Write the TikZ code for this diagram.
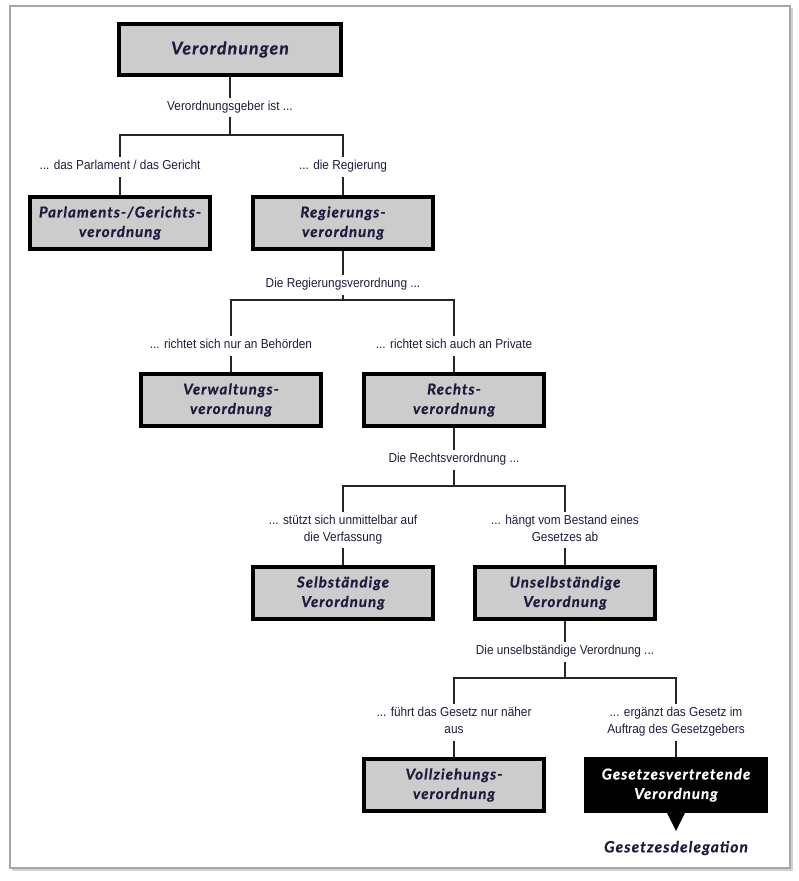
\documentclass[tikz,border=0pt]{standalone}
\usepackage{fontspec}
\newfontfamily\labfont[FakeStretch=0.91]{Liberation Sans}
\newfontfamily\boxfont[LetterSpace=7, BoldItalicFeatures={FakeBold=0.6}]{Lato}
\definecolor{ink}{RGB}{28,28,62}
\definecolor{boxgray}{RGB}{204,204,204}
\newcommand{\ls}{\rule[-0.28em]{0pt}{1.02em}}
\begin{document}
\begin{tikzpicture}[x=1pt,y=-1pt,
  box/.style={draw=black, line width=3.8pt, fill=boxgray, minimum width=180pt, minimum height=52pt,
    align=center, inner sep=0pt, text=ink, font=\boxfont\bfseries\itshape\fontsize{15}{19.5}\selectfont},
  darkbox/.style={box, fill=black, text=white},
  lab/.style={font=\labfont\fontsize{13}{17}\selectfont, text=ink, align=center, inner xsep=2pt, inner ysep=3pt},
  conn/.style={draw=black!85, line width=1.3pt}]
\useasboundingbox (0,0) rectangle (799,881);
% frame
\draw[gray!35, line width=1.6pt] (12,870) -- (792,870) -- (792,8);
\draw[gray!70, line width=1.4pt] (10,6) rectangle (790,868);

% level 0
\node[box, minimum width=222pt, minimum height=51pt, font=\boxfont\bfseries\itshape\fontsize{17.5}{20}\selectfont] (v) at (230,49.5) {Verordnungen};
\node[lab] (l0) at (230,107.5) {\ls Verordnungsgeber ist ...};
\coordinate (b0) at (230,135);
\node[lab] (lp) at (120,167) {\ls ... das Parlament / das Gericht};
\node[lab] (lr) at (343,167) {\ls ... die Regierung};
\node[box] (p) at (120,223) {Parlaments-/Gerichts-\\verordnung};
\node[box] (r) at (343,223) {Regierungs-\\verordnung};

% level 1
\node[lab] (l1) at (343,285) {\ls Die Regierungsverordnung ...};
\coordinate (b1) at (343,300);
\node[lab] (lvw) at (231,346) {\ls ... richtet sich nur an Behörden};
\node[lab] (lre) at (454,346) {\ls ... richtet sich auch an Private};
\node[box] (vw) at (231,400) {Verwaltungs-\\verordnung};
\node[box] (re) at (454,400) {Rechts-\\verordnung};

% level 2
\node[lab] (l2) at (454,460) {\ls Die Rechtsverordnung ...};
\coordinate (b2) at (454,486);
\node[lab] (ls) at (343,530) {\ls ... stützt sich unmittelbar auf\\\ls die Verfassung};
\node[lab] (lu) at (565,530) {\ls ... hängt vom Bestand eines\\\ls Gesetzes ab};
\node[box] (s) at (343,593) {Selbständige\\Verordnung};
\node[box] (u) at (565,593) {Unselbständige\\Verordnung};

% level 3
\node[lab] (l3) at (565,652) {\ls Die unselbständige Verordnung ...};
\coordinate (b3) at (565,678);
\node[lab] (lvz) at (454,722.5) {\ls ... führt das Gesetz nur näher\\\ls aus};
\node[lab] (lg) at (676,722.5) {\ls ... ergänzt das Gesetz im\\\ls Auftrag des Gesetzgebers};
\node[box] (vz) at (454,785) {Vollziehungs-\\verordnung};
\node[darkbox] (g) at (676,785) {Gesetzesvertretende\\Verordnung};
\coordinate (tip) at (676,831);
\fill[black] ([xshift=-9pt]g.south) -- ([xshift=9pt]g.south) -- (tip) -- cycle;
\node[text=ink, font=\boxfont\bfseries\itshape\fontsize{15.5}{18}\selectfont] (gd) at (676,848) {Gesetzesdelegation};

% connectors
\draw[conn] (v.south) -- (l0.north);
\draw[conn] (l0.south) -- (b0);
\draw[conn] (lp.north) |- (b0) -| (lr.north);
\draw[conn] (lp.south) -- (p.north);
\draw[conn] (lr.south) -- (r.north);

\draw[conn] (r.south) -- (l1.north);
\draw[conn] (l1.south) -- (b1);
\draw[conn] (lvw.north) |- (b1) -| (lre.north);
\draw[conn] (lvw.south) -- (vw.north);
\draw[conn] (lre.south) -- (re.north);

\draw[conn] (re.south) -- (l2.north);
\draw[conn] (l2.south) -- (b2);
\draw[conn] (ls.north) |- (b2) -| (lu.north);
\draw[conn] (ls.south) -- (s.north);
\draw[conn] (lu.south) -- (u.north);

\draw[conn] (u.south) -- (l3.north);
\draw[conn] (l3.south) -- (b3);
\draw[conn] (lvz.north) |- (b3) -| (lg.north);
\draw[conn] (lvz.south) -- (vz.north);
\draw[conn] (lg.south) -- (g.north);
\end{tikzpicture}
\end{document}
